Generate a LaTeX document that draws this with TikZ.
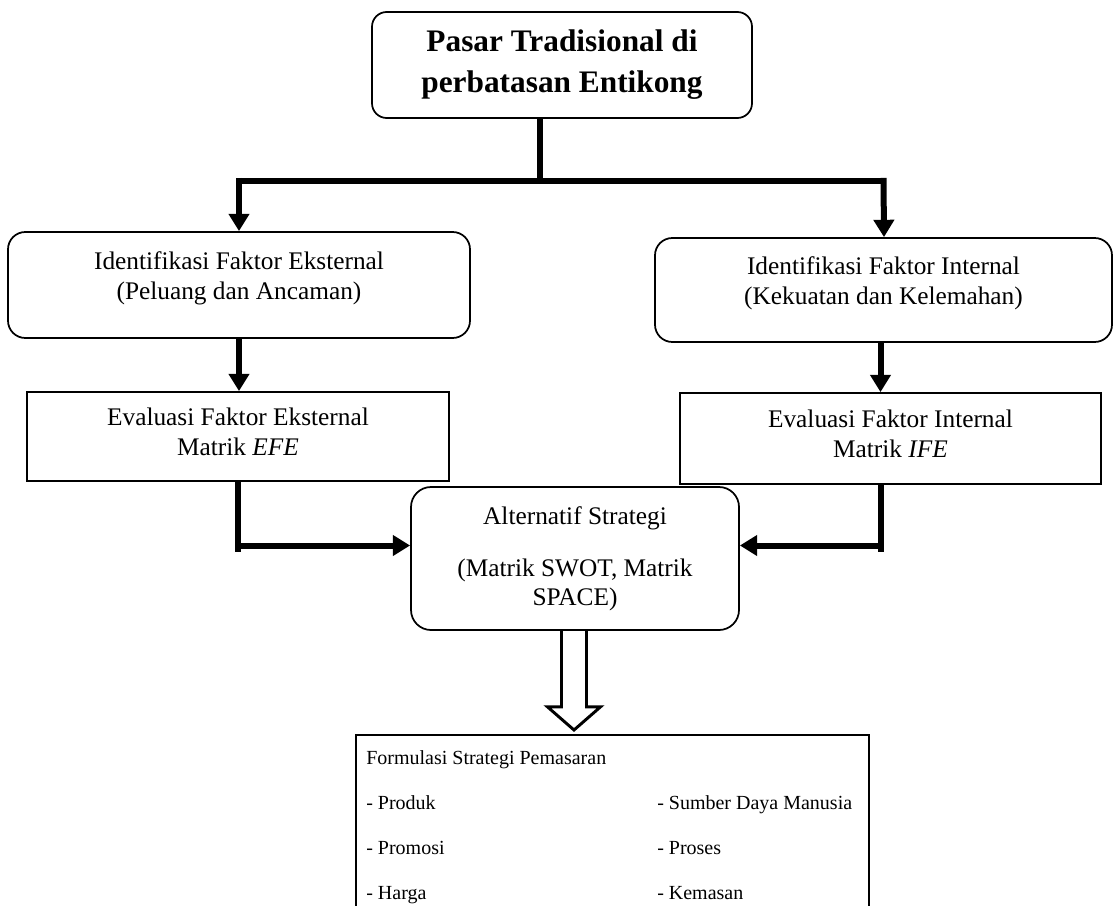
\documentclass[tikz,border=0pt]{standalone}
\usepackage{fontspec}
\setmainfont{Liberation Serif}
\usetikzlibrary{arrows.meta, positioning, calc}
\tikzset{
  judul/.style={rectangle, draw, line width=1.3pt, rounded corners=11pt,
                align=center, font=\bfseries\fontsize{23.5}{30.75}\selectfont},
  bulat/.style={rectangle, draw, line width=1.3pt, rounded corners=13pt,
                align=center, font=\fontsize{19}{22.5}\selectfont},
  kotak/.style={rectangle, draw, line width=1.3pt,
                align=center, font=\fontsize{19}{22.5}\selectfont},
  tebal/.style={line width=4.5pt},
  panah/.style={-{Triangle[length=13pt, width=15pt]}, line width=4.5pt},
  kosong/.style={line width=2.2pt, line join=miter}
}
\begin{document}
\begin{tikzpicture}[x=0.75pt, y=-0.75pt]
    \useasboundingbox (0,0) rectangle (1114,906);
    \clip (0,0) rectangle (1114,906);
    \node[judul, minimum width=285pt, minimum height=79.5pt] (pasar) at (562,65)
          {Pasar Tradisional di\\perbatasan Entikong};
    \node[bulat, minimum width=346.5pt, minimum height=79.5pt] (eksid) at (239,285)
          {Identifikasi Faktor Eksternal\\(Peluang dan Ancaman)\\[-8pt]\mbox{}};
    \node[bulat, minimum width=342.75pt, minimum height=78pt] (intid) at (883.5,290)
          {Identifikasi Faktor Internal\\(Kekuatan dan Kelemahan)\\[-8pt]\mbox{}};
    \node[kotak, minimum width=316.5pt, minimum height=66.75pt] (efe) at (238,436.5)
          {Evaluasi Faktor Eksternal\\Matrik \textit{EFE}\\[-15pt]\mbox{}};
    \node[kotak, minimum width=315.75pt, minimum height=68.25pt] (ife) at (890.5,438.5)
          {Evaluasi Faktor Internal\\Matrik \textit{IFE}\\[-15pt]\mbox{}};
    \node[bulat, rounded corners=15pt, minimum width=246pt, minimum height=107.25pt,
          font=\fontsize{19}{21.5}\selectfont] (alt) at (575,558.5)
          {Alternatif Strategi\\[18pt](Matrik SWOT, Matrik\\SPACE)};
    \node[kotak, anchor=north west, minimum width=384.75pt, minimum height=150pt] (formul)
          at (355,734) {};
    \node[anchor=north west, inner sep=0pt, font=\fontsize{15}{33.75}\selectfont] (isi)
          at (366,732.5)
          {\begin{tabular}{@{}p{218.25pt}@{}l@{}}
             Formulasi Strategi Pemasaran & \\
             - Produk & - Sumber Daya Manusia \\
             - Promosi & - Proses \\
             - Harga & - Kemasan
           \end{tabular}};
    \coordinate (cabang) at ($(pasar.south)+(-22,62)$);
    \coordinate (kiri) at (eksid.north |- cabang);
    \coordinate (kanan) at ($(intid.north |- cabang)+(2,0)$);
    \draw[tebal] ($(pasar.south)+(-22,0)$) -- ($(cabang)+(0,3)$);
    \draw[tebal] (kiri) -- (kanan);
    \draw[panah] ($(kiri)+(0,-3)$) -- (eksid.north);
    \draw[panah] ($(kanan)+(-2,-3)$) -- ($(intid.north)+(0.5,0)$);
    \draw[panah] (eksid.south) -- (efe.north -| eksid.south);
    \draw[panah] ($(intid.south)+(-3,0)$) -- ($(ife.north -| intid.south)+(-3,0)$);
    \coordinate (masukkiri) at ($(alt.west)+(0,-13)$);
    \coordinate (masukkanan) at ($(alt.east)+(0,-13)$);
    \draw[tebal] (efe.south) -- ($(masukkiri -| efe.south)+(0,6)$);
    \draw[panah] ($(masukkiri -| efe.south)+(-3,0)$) -- (masukkiri);
    \draw[tebal] ($(ife.south)+(-10,0)$) -- ($(masukkanan -| ife.south)+(-10,6)$);
    \draw[panah] ($(masukkanan -| ife.south)+(-7,0)$) -- (masukkanan);
    \coordinate (pangkal) at ($(alt.south)+(-1,0)$);
    \coordinate (ujung) at ($(formul.north)+(0,-4)$);
    \draw[kosong] ($(pangkal)+(-12.5,0)$) -- ++(0,76) -- ++(-14,0)
          -- (pangkal |- ujung) -- ($(pangkal)+(26.5,76)$) -- ++(-14,0)
          -- ($(pangkal)+(12.5,0)$);
  \end{tikzpicture}
\end{document}
